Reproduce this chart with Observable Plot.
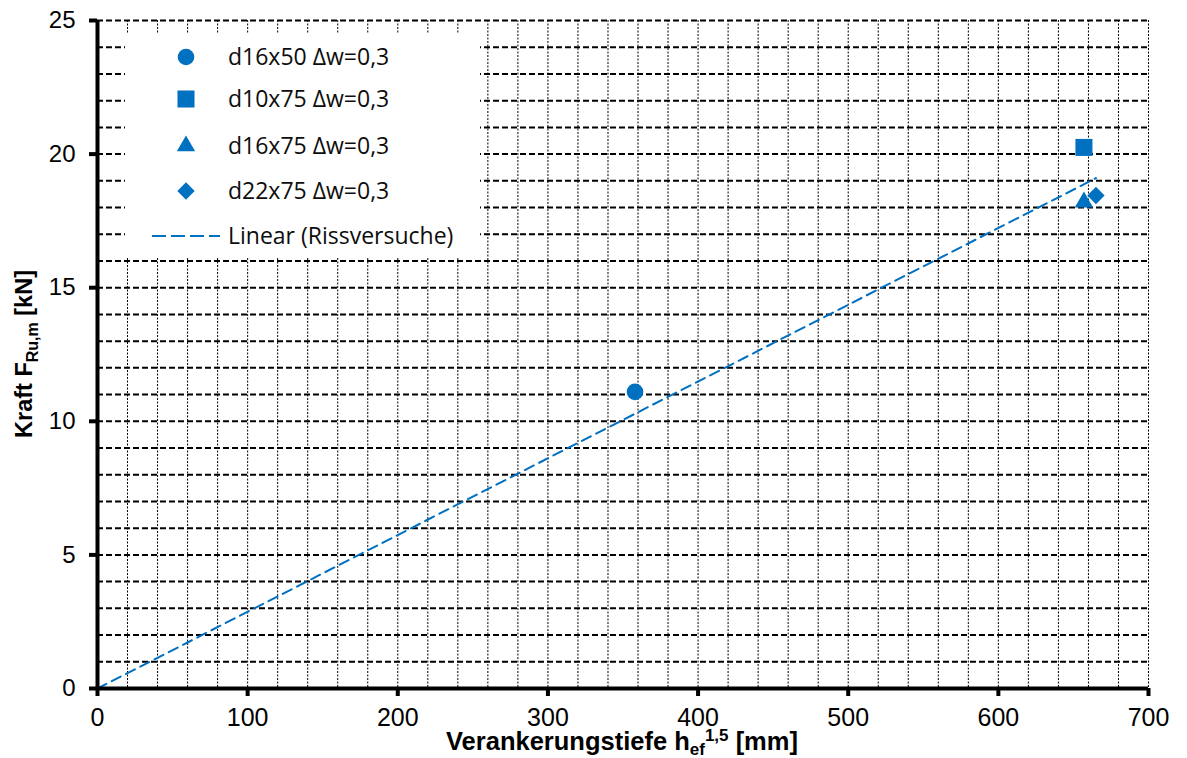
<!DOCTYPE html>
<html>
<head>
<meta charset="utf-8">
<script src="https://cdn.jsdelivr.net/npm/d3@7"></script>
<script src="https://cdn.jsdelivr.net/npm/@observablehq/plot@0.6"></script>
<style>
  html, body { margin: 0; padding: 0; background: white; }
  #chart svg { display: block; }
</style>
</head>
<body>
<div id="chart"></div>
<script>
// ---- data ----
const seriesNames = ["d16x50 Δw=0,3", "d10x75 Δw=0,3", "d16x75 Δw=0,3", "d22x75 Δw=0,3"];
const seriesSymbols = ["circle", "square", "triangle", "diamond2"];
const seriesX = [358, 657, 657, 665];
const seriesY = [11.1, 20.25, 18.2, 18.45];
const trendName = "Linear (Rissversuche)";
const trendX = [0, 665];
const trendY = [0, 19.1];
const xTicks = [0, 100, 200, 300, 400, 500, 600, 700];
const yTicks = [0, 5, 10, 15, 20, 25];
const xGrid = [20,40,60,80,100,120,140,160,180,200,220,240,260,280,300,320,340,360,380,400,420,440,460,480,500,520,540,560,580,600,620,640,660,680,700];
const yGrid = [1,2,3,4,5,6,7,8,9,10,11,12,13,14,15,16,17,18,19,20,21,22,23,24,25];

const points = seriesNames.map((name, i) => ({name, symbol: seriesSymbols[i], x: seriesX[i], y: seriesY[i]}));
const trend = trendX.map((x, i) => ({x, y: trendY[i]}));

const blue = "#0070C0";
const symbolR = {circle: 8.3, square: 9.6, triangle: 6.8, diamond2: 7.8};

const chart = Plot.plot({
  width: 1187,
  height: 758,
  marginLeft: 97,
  marginRight: 39,
  marginTop: 20,
  marginBottom: 70,
  x: {domain: [0, 700]},
  y: {domain: [0, 25]},
  style: {fontFamily: "'Liberation Sans', Arial, sans-serif", fontSize: "24px", background: "white", color: "black"},
  marks: [
    Plot.ruleX(xGrid, {stroke: "black", strokeWidth: 1, strokeDasharray: "2,1.5"}),
    Plot.ruleY(yGrid, {stroke: "black", strokeWidth: 2, strokeDasharray: "6,3"}),
    Plot.line(trend, {x: "x", y: "y", stroke: blue, strokeWidth: 2, strokeDasharray: "10,6"}),
    ...seriesSymbols.map(s => Plot.dot(points.filter(d => d.symbol === s), {x: "x", y: "y", symbol: "symbol", fill: blue, stroke: "none", r: symbolR[s]})),
    Plot.ruleY([0], {stroke: "black", strokeWidth: 4}),
    Plot.ruleX([0], {stroke: "black", strokeWidth: 4}),
    Plot.axisX({ticks: xTicks, tickSize: 8, tickPadding: 12, strokeWidth: 4, label: null, fontSize: 25}),
    Plot.axisY({ticks: yTicks, tickSize: 8, tickPadding: 14, strokeWidth: 4, label: null, fontSize: 24})
  ]
});

document.getElementById("chart").appendChild(chart);

const svg = d3.select(chart);

// ---- axis titles ----
const xt = svg.append("text")
  .attr("x", 622).attr("y", 750)
  .attr("text-anchor", "middle")
  .attr("font-family", "'Liberation Sans', Arial, sans-serif")
  .attr("font-weight", "bold").attr("font-size", 25.5).attr("fill", "black");
xt.append("tspan").text("Verankerungstiefe h");
xt.append("tspan").attr("font-size", 17).attr("dy", 5).text("ef");
xt.append("tspan").attr("font-size", 17).attr("dy", -14).text("1,5");
xt.append("tspan").attr("dy", 9).text(" [mm]");

const yt = svg.append("text")
  .attr("transform", "translate(32,354) rotate(-90)")
  .attr("text-anchor", "middle")
  .attr("font-family", "'Liberation Sans', Arial, sans-serif")
  .attr("font-weight", "bold").attr("font-size", 23.5).attr("fill", "black");
yt.append("tspan").text("Kraft F");
yt.append("tspan").attr("font-size", 16).attr("dy", 6).text("Ru,m");
yt.append("tspan").attr("dy", -6).text(" [kN]");

// ---- legend ----
const lg = svg.append("g").attr("text-anchor", "start");
lg.append("rect").attr("x", 125).attr("y", 34).attr("width", 355).attr("height", 224).attr("fill", "white");
const rows = [57, 99, 146, 191];
points.forEach((p, i) => {
  const r = symbolR[p.symbol];
  const sym = {circle: d3.symbolCircle, square: d3.symbolSquare, triangle: d3.symbolTriangle, diamond2: d3.symbolDiamond2}[p.symbol];
  lg.append("path")
    .attr("d", d3.symbol(sym, r * r * Math.PI)())
    .attr("transform", `translate(186,${rows[i]})`)
    .attr("fill", blue);
  lg.append("text").attr("x", 228).attr("y", rows[i]).attr("dy", "0.35em")
    .attr("text-anchor", "start")
    .attr("font-family", "'Open Sans', sans-serif").attr("font-size", 23).attr("fill", "#0d0d0d")
    .text(p.name);
});
lg.append("line").attr("x1", 152).attr("x2", 220).attr("y1", 236).attr("y2", 236)
  .attr("stroke", blue).attr("stroke-width", 2.2).attr("stroke-dasharray", "14,5");
lg.append("text").attr("x", 228).attr("y", 236).attr("dy", "0.35em")
  .attr("text-anchor", "start")
  .attr("font-family", "'Open Sans', sans-serif").attr("font-size", 23).attr("fill", "#0d0d0d")
  .text(trendName);
</script>
</body>
</html>
